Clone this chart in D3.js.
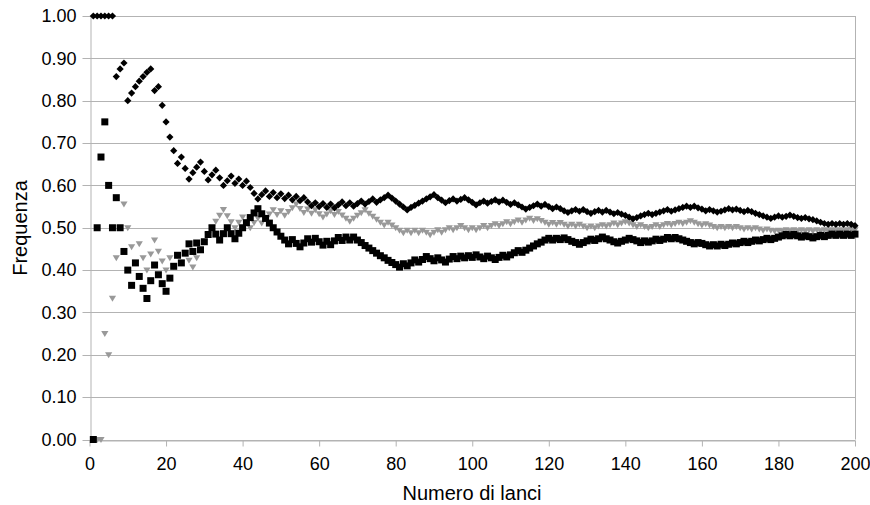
<!DOCTYPE html>
<html>
<head>
<meta charset="utf-8">
<script src="https://cdn.jsdelivr.net/npm/d3@7"></script>
<style>
  body { margin: 0; background: #fff; }
  text { font-family: "Liberation Sans", Arial, sans-serif; fill: #000; }
</style>
</head>
<body>
<div class="canvas"></div>
<script>
const freqRombi = [
  1,1,1,1,1,1,0.857,0.875,0.889,0.800,0.818,0.833,0.846,0.857,0.867,0.875,0.824,0.833,0.789,0.750,
  0.714,0.682,0.652,0.667,0.640,0.615,0.630,0.643,0.655,0.633,0.613,0.625,0.636,0.618,0.600,0.611,0.622,0.605,0.615,0.600,
  0.610,0.595,0.581,0.568,0.578,0.587,0.574,0.583,0.571,0.580,0.569,0.577,0.566,0.574,0.564,0.571,0.561,0.552,0.559,0.550,
  0.557,0.548,0.556,0.547,0.554,0.561,0.552,0.559,0.551,0.557,0.563,0.556,0.562,0.568,0.560,0.566,0.571,0.577,0.570,0.563,
  0.556,0.549,0.542,0.548,0.553,0.558,0.563,0.568,0.573,0.578,0.571,0.565,0.559,0.564,0.568,0.563,0.567,0.571,0.566,0.560,
  0.554,0.559,0.563,0.558,0.562,0.566,0.561,0.565,0.560,0.555,0.559,0.554,0.549,0.544,0.548,0.552,0.556,0.551,0.555,0.550,
  0.545,0.549,0.545,0.540,0.536,0.540,0.543,0.539,0.543,0.538,0.534,0.538,0.541,0.537,0.541,0.537,0.533,0.536,0.532,0.529,
  0.525,0.521,0.524,0.528,0.531,0.534,0.531,0.534,0.537,0.540,0.543,0.539,0.542,0.545,0.548,0.551,0.548,0.551,0.547,0.544,
  0.540,0.543,0.540,0.537,0.539,0.542,0.545,0.542,0.544,0.541,0.538,0.541,0.538,0.534,0.531,0.528,0.525,0.522,0.525,0.528,
  0.525,0.527,0.530,0.527,0.524,0.522,0.524,0.521,0.519,0.516,0.513,0.510,0.508,0.510,0.508,0.510,0.508,0.510,0.508,0.505
];
const freqQuadrati = [
  0,0.5,0.667,0.75,0.6,0.5,0.571,0.5,0.444,0.4,0.364,0.417,0.385,0.357,0.333,0.375,0.412,0.389,0.368,0.35,
  0.381,0.409,0.435,0.417,0.44,0.462,0.444,0.464,0.448,0.467,0.484,0.5,0.485,0.471,0.486,0.5,0.486,0.474,0.487,0.5,
  0.512,0.524,0.535,0.545,0.533,0.522,0.511,0.5,0.49,0.48,0.471,0.462,0.472,0.463,0.455,0.464,0.474,0.466,0.475,0.467,
  0.459,0.468,0.460,0.469,0.477,0.470,0.478,0.471,0.478,0.471,0.465,0.458,0.452,0.446,0.440,0.434,0.429,0.423,0.418,0.413,
  0.407,0.415,0.410,0.417,0.424,0.419,0.425,0.432,0.427,0.422,0.429,0.424,0.419,0.426,0.432,0.427,0.433,0.429,0.434,0.430,
  0.436,0.431,0.427,0.433,0.429,0.425,0.430,0.435,0.431,0.436,0.441,0.446,0.442,0.447,0.452,0.457,0.462,0.466,0.471,0.475,
  0.471,0.475,0.472,0.476,0.472,0.468,0.465,0.461,0.465,0.469,0.473,0.470,0.474,0.478,0.474,0.471,0.467,0.464,0.468,0.471,
  0.475,0.472,0.469,0.465,0.469,0.466,0.469,0.473,0.470,0.473,0.477,0.474,0.477,0.474,0.471,0.468,0.465,0.462,0.465,0.463,
  0.460,0.457,0.460,0.457,0.461,0.458,0.461,0.464,0.462,0.465,0.468,0.465,0.468,0.471,0.469,0.472,0.475,0.472,0.475,0.478,
  0.481,0.484,0.481,0.484,0.481,0.478,0.481,0.479,0.476,0.479,0.482,0.479,0.482,0.485,0.482,0.485,0.482,0.485,0.482,0.485
];
const freqTriangoli = [
  0,0,0,0.25,0.2,0.333,0.429,0.5,0.556,0.5,0.455,0.417,0.462,0.429,0.4,0.438,0.471,0.444,0.421,0.4,
  0.429,0.409,0.435,0.417,0.44,0.423,0.407,0.429,0.448,0.467,0.484,0.5,0.515,0.529,0.543,0.528,0.514,0.5,0.513,0.525,
  0.512,0.5,0.512,0.523,0.511,0.522,0.532,0.542,0.531,0.54,0.529,0.538,0.547,0.556,0.545,0.536,0.544,0.534,0.542,0.533,
  0.525,0.532,0.540,0.531,0.538,0.530,0.522,0.515,0.522,0.529,0.535,0.542,0.534,0.527,0.52,0.513,0.506,0.513,0.506,0.5,
  0.494,0.488,0.494,0.488,0.494,0.488,0.494,0.489,0.483,0.489,0.495,0.489,0.495,0.5,0.495,0.5,0.505,0.5,0.495,0.5,
  0.495,0.5,0.505,0.5,0.505,0.509,0.505,0.509,0.514,0.509,0.514,0.518,0.513,0.518,0.522,0.517,0.521,0.517,0.513,0.508,
  0.512,0.508,0.512,0.508,0.504,0.508,0.504,0.508,0.504,0.5,0.504,0.5,0.504,0.507,0.504,0.507,0.511,0.507,0.511,0.514,
  0.511,0.507,0.503,0.507,0.503,0.5,0.503,0.507,0.503,0.507,0.510,0.507,0.510,0.513,0.510,0.513,0.516,0.513,0.509,0.506,
  0.509,0.506,0.503,0.5,0.503,0.5,0.503,0.5,0.503,0.5,0.497,0.5,0.497,0.5,0.497,0.494,0.497,0.494,0.492,0.494,
  0.492,0.495,0.492,0.495,0.492,0.495,0.492,0.495,0.492,0.495,0.492,0.495,0.492,0.495,0.492,0.495,0.492,0.495,0.497,0.495
];
// numero del lancio (asse x) e tick
const lanci = d3.range(1, freqRombi.length + 1);
const xTicks = [0, 20, 40, 60, 80, 100, 120, 140, 160, 180, 200];
const yTicks = [0, 0.1, 0.2, 0.3, 0.4, 0.5, 0.6, 0.7, 0.8, 0.9, 1];

const dims = { width: 870, height: 505 };
const plot = { left: 89.5, right: 855, top: 16, bottom: 439.5 };

const svg = d3.select('.canvas')
  .append('svg')
  .attr('width', dims.width)
  .attr('height', dims.height);

const x = d3.scaleLinear().domain([0, 200]).range([plot.left, plot.right]);
const y = d3.scaleLinear().domain([0, 1]).range([plot.bottom, plot.top]);

const grigio = '#b3b3b3';
const font = '"Liberation Sans", Arial, sans-serif';

// griglia orizzontale (con tacca a sinistra)
svg.append('g')
  .selectAll('line')
  .data(yTicks)
  .enter().append('line')
  .attr('x1', plot.left - 7)
  .attr('x2', plot.right)
  .attr('y1', d => Math.round(y(d)) + 0.5)
  .attr('y2', d => Math.round(y(d)) + 0.5)
  .attr('stroke', grigio)
  .attr('stroke-width', 1);

// asse x con tacche verso il basso
const xAxis = svg.append('g')
  .attr('transform', `translate(0, ${Math.round(plot.bottom) + 0.5})`)
  .call(d3.axisBottom(x).tickValues(xTicks).tickSize(6).tickSizeOuter(0).tickPadding(11));
xAxis.select('.domain').attr('stroke', grigio);
xAxis.selectAll('.tick line').attr('stroke', grigio);
xAxis.selectAll('text').attr('font-size', 18).attr('fill', '#111').style('font-family', font);

// asse y
const yAxis = svg.append('g')
  .attr('transform', `translate(${Math.round(plot.left) + 0.5}, 0)`)
  .call(d3.axisLeft(y).tickValues(yTicks).tickFormat(d3.format('.2f')).tickSize(0).tickPadding(14));
yAxis.select('.domain').attr('stroke', grigio);
yAxis.selectAll('text').attr('font-size', 18).attr('fill', '#111').style('font-family', font);

// bordo destro dell'area del grafico
svg.append('line')
  .attr('x1', Math.round(plot.right) + 0.5).attr('x2', Math.round(plot.right) + 0.5)
  .attr('y1', plot.top).attr('y2', plot.bottom)
  .attr('stroke', grigio);

// simboli
const forme = {
  rombo: 'M0,-3.6L3.6,0L0,3.6L-3.6,0Z',
  quadrato: 'M-3.5,-3.5H3.5V3.5H-3.5Z',
  triangolo: 'M-3.6,-2.6H3.6L0,3.4Z'
};

const serie = [
  { nome: 'triangoli', valori: freqTriangoli, forma: forme.triangolo, colore: '#999999' },
  { nome: 'quadrati', valori: freqQuadrati, forma: forme.quadrato, colore: '#000000' },
  { nome: 'rombi', valori: freqRombi, forma: forme.rombo, colore: '#000000' }
];

serie.forEach(s => {
  svg.append('g')
    .attr('class', s.nome)
    .selectAll('path')
    .data(lanci)
    .enter().append('path')
    .attr('d', s.forma)
    .attr('transform', (n, i) => `translate(${x(n)}, ${y(s.valori[i])})`)
    .attr('fill', s.colore);
});

// titoli degli assi
svg.append('text')
  .attr('x', 472)
  .attr('y', 500)
  .attr('text-anchor', 'middle')
  .attr('font-size', 20)
  .text('Numero di lanci');

svg.append('text')
  .attr('transform', 'translate(27, 228) rotate(-90)')
  .attr('text-anchor', 'middle')
  .attr('font-size', 20)
  .text('Frequenza');
</script>
</body>
</html>
